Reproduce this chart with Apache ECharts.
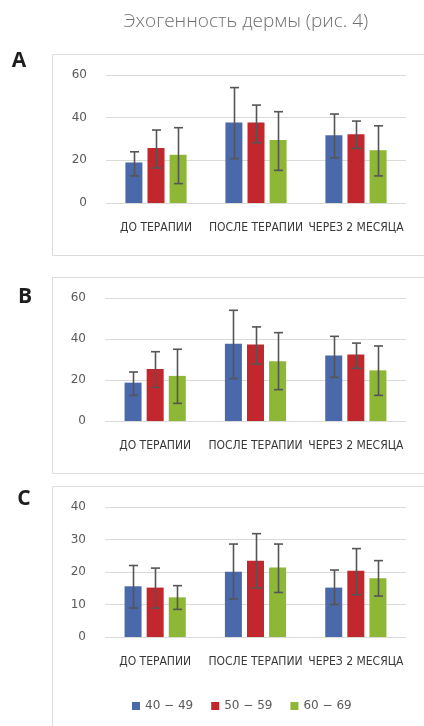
<!DOCTYPE html>
<html><head><meta charset="utf-8">
<script src="https://cdn.jsdelivr.net/npm/echarts@6/dist/echarts.min.js"></script>
<style>html,body{margin:0;padding:0;background:#fff}#c{width:424px;height:726px}</style>
</head><body><div id="c"></div>
<script>
const categories = ['ДО ТЕРАПИИ', 'ПОСЛЕ ТЕРАПИИ', 'ЧЕРЕЗ 2 МЕСЯЦА'];
const seriesNames = ['40 − 49', '50 − 59', '60 − 69'];
const colors = ['#4a69ab', '#c1272d', '#8eb735'];
const panelLetters = ['A', 'B', 'C'];

// Panel A
const aMean = [[19, 37.7, 31.7], [25.8, 37.7, 32.2], [22.6, 29.5, 24.7]];
const aLow  = [[12.7, 20.8, 21.2], [16.4, 28.3, 25.6], [9.1, 15.3, 12.7]];
const aHigh = [[24, 54.1, 41.7], [34.2, 45.9, 38.4], [35.3, 42.8, 36.2]];
// Panel B
const bMean = [[18.7, 37.7, 31.9], [25.4, 37.3, 32.4], [22, 29.1, 24.7]];
const bLow  = [[12.5, 20.7, 21.3], [16.4, 27.8, 25.7], [8.6, 15.3, 12.5]];
const bHigh = [[23.9, 54, 41.3], [33.8, 45.9, 38], [35, 43.1, 36.6]];
// Panel C
const cMean = [[15.6, 20.1, 15.2], [15.2, 23.5, 20.4], [12.2, 21.4, 18.1]];
const cLow  = [[8.9, 11.7, 10], [8.9, 15.1, 13], [8.5, 13.7, 12.6]];
const cHigh = [[22, 28.6, 20.6], [21.2, 31.8, 27.2], [15.8, 28.6, 23.5]];

const yMax = [60, 60, 40];
const yInterval = [20, 20, 10];

const panels = [
  {mean: aMean, low: aLow, high: aHigh},
  {mean: bMean, low: bLow, high: bHigh},
  {mean: cMean, low: cLow, high: cHigh}
];

const gridPos = [
  {left: 106, right: 18, top: 75, height: 128},
  {left: 105, right: 18, top: 298, height: 123},
  {left: 105, right: 18, top: 507, height: 130}
];
const boxes = [[54.5, 201], [277.5, 196], [486.5, 260]];
const letterPos = [[19, 61], [25, 297], [24, 499]];

const BAR_W = 17, GAP = 5.1;
const offsets = [-(BAR_W + GAP), 0, BAR_W + GAP];

const grids = [], xAxes = [], yAxes = [], series = [];
panels.forEach((p, gi) => {
  grids.push(Object.assign({containLabel: false}, gridPos[gi]));
  xAxes.push({
    type: 'category', gridIndex: gi, data: categories,
    axisLine: {show: false}, axisTick: {show: false},
    axisLabel: {margin: 19, fontSize: 12, color: '#383838', fontFamily: 'DejaVu Sans Condensed', interval: 0}
  });
  yAxes.push({
    type: 'value', gridIndex: gi, min: 0, max: yMax[gi], interval: yInterval[gi],
    axisLine: {show: false}, axisTick: {show: false},
    axisLabel: {margin: 19, fontSize: 12, color: '#595959', fontFamily: 'DejaVu Sans'},
    splitLine: {lineStyle: {color: '#dadad6', width: 1}}
  });
  p.mean.forEach((vals, si) => {
    series.push({
      type: 'bar', name: seriesNames[si], xAxisIndex: gi, yAxisIndex: gi,
      data: vals, barWidth: BAR_W, barGap: '30%',
      itemStyle: {color: colors[si]}, animation: false
    });
  });
  p.mean.forEach((vals, si) => {
    series.push({
      type: 'custom', xAxisIndex: gi, yAxisIndex: gi, silent: true, animation: false,
      data: vals.map((v, ci) => [ci, p.low[si][ci], p.high[si][ci]]),
      encode: {x: 0, y: [1, 2]},
      z: 10,
      renderItem: (params, api) => {
        const ci = api.value(0);
        const lo = api.coord([ci, api.value(1)]);
        const hi = api.coord([ci, api.value(2)]);
        const x = Math.round(lo[0] + offsets[si]) + 0.5;
        const cap = 4.5;
        const st = {stroke: '#555555', lineWidth: 1.6};
        return {type: 'group', children: [
          {type: 'line', shape: {x1: x, y1: hi[1], x2: x, y2: lo[1]}, style: st},
          {type: 'line', shape: {x1: x - cap, y1: hi[1], x2: x + cap, y2: hi[1]}, style: st},
          {type: 'line', shape: {x1: x - cap, y1: lo[1], x2: x + cap, y2: lo[1]}, style: st}
        ]};
      }
    });
  });
});

const graphics = [];
boxes.forEach(b => {
  graphics.push({type: 'rect', silent: true, z: -10,
    shape: {x: 52.5, y: b[0], width: 420, height: b[1]},
    style: {fill: 'none', stroke: '#dcdcd8', lineWidth: 1}});
});
panelLetters.forEach((L, i) => {
  graphics.push({type: 'text', silent: true,
    x: letterPos[i][0], y: letterPos[i][1],
    style: {text: L, font: 'bold 21px "Open Sans", "DejaVu Sans", sans-serif', fill: '#1e1e1e', align: 'center', verticalAlign: 'middle'}});
});

const chart = echarts.init(document.getElementById('c'), null, {renderer: 'canvas'});
chart.setOption({
  animation: false,
  title: {text: 'Эхогенность дермы (рис. 4)', left: 241, top: 7, textAlign: 'center',
    textStyle: {fontFamily: 'Open Sans', fontWeight: 300, fontSize: 19, color: '#707070'}},
  legend: {data: seriesNames, bottom: 9, left: 127, icon: 'rect', itemWidth: 8, itemHeight: 8, itemGap: 18,
    textStyle: {fontFamily: 'DejaVu Sans', fontSize: 12, color: '#595959'}},
  grid: grids, xAxis: xAxes, yAxis: yAxes, series: series, graphic: graphics
});
</script></body></html>
